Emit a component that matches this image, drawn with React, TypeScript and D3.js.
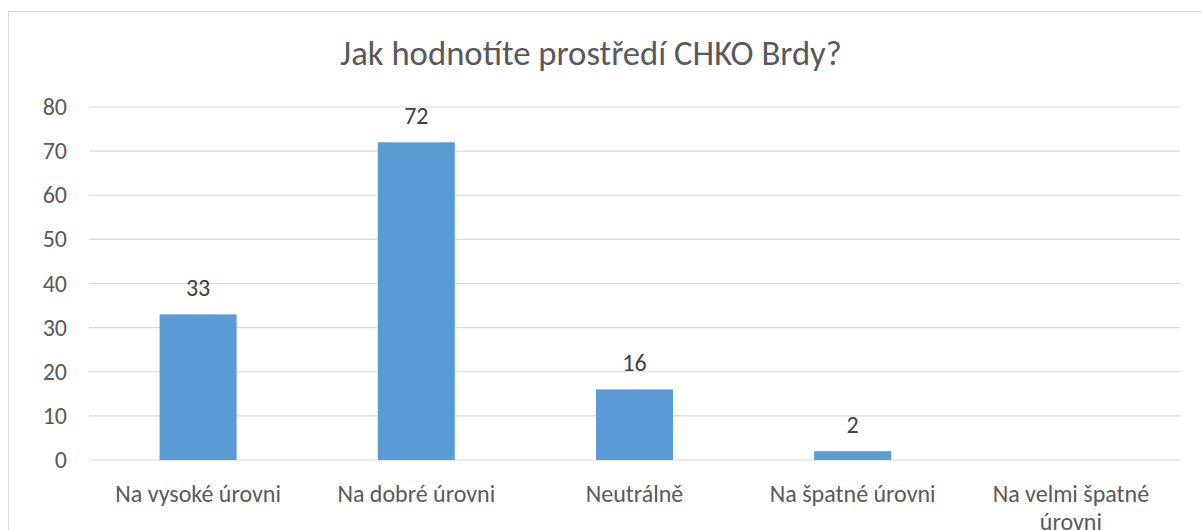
import * as d3 from 'd3';

const categories = ['Na vysoké úrovni', 'Na dobré úrovni', 'Neutrálně', 'Na špatné úrovni', 'Na velmi špatné úrovni'];
const values = [33, 72, 16, 2, 0];
const yTicks = [0, 10, 20, 30, 40, 50, 60, 70, 80];
const title = 'Jak hodnotíte prostředí CHKO Brdy?';

// label lines, the last category wraps in the original
const labelLines = [['Na vysoké úrovni'], ['Na dobré úrovni'], ['Neutrálně'], ['Na špatné úrovni'], ['Na velmi špatné', 'úrovni']];

const W = 1202;
const H = 530;
const plot = { left: 89, right: 1180, top: 107, bottom: 460 };
const font = 'Carlito, Calibri, Lato, sans-serif';

const App = () => {
  const x = d3.scaleBand<string>().domain(categories).range([plot.left, plot.right]).padding(0);
  const y = d3.scaleLinear().domain([0, 80]).range([plot.bottom, plot.top]);
  const barW = x.bandwidth() * 0.353;

  return (
    <svg width={W} height={H} style={{ position: 'absolute', left: 0, top: 0, background: '#fff' }}>
      <rect x={8.5} y={11.5} width={W} height={H} fill="#fff" stroke="#d9d9d9" strokeWidth={1} />
      <text x={591} y={65} textAnchor="middle" fontFamily={font} fontSize={34.7} fill="#595959">
        {title}
      </text>
      {yTicks.map(t => (
        <g key={t}>
          <line x1={plot.left} x2={plot.right} y1={y(t)} y2={y(t)} stroke="#d9d9d9" strokeWidth={1.2} />
          <text x={67} y={y(t) + 8} textAnchor="end" fontFamily={font} fontSize={24} fill="#595959">
            {t}
          </text>
        </g>
      ))}
      {categories.map((c, i) => {
        const cx = (x(c) ?? 0) + x.bandwidth() / 2;
        const v = values[i];
        return (
          <g key={c}>
            {v > 0 && (
              <>
                <rect x={cx - barW / 2} y={y(v)} width={barW} height={y(0) - y(v)} fill="#5b9bd5" />
                <text x={cx} y={y(v) - 18.5} textAnchor="middle" fontFamily={font} fontSize={24} fill="#404040">
                  {v}
                </text>
              </>
            )}
            {labelLines[i].map((ln, j) => (
              <text key={j} x={cx} y={502 + j * 28} textAnchor="middle" fontFamily={font} fontSize={24} fill="#595959">
                {ln}
              </text>
            ))}
          </g>
        );
      })}
    </svg>
  );
};

export default App;
